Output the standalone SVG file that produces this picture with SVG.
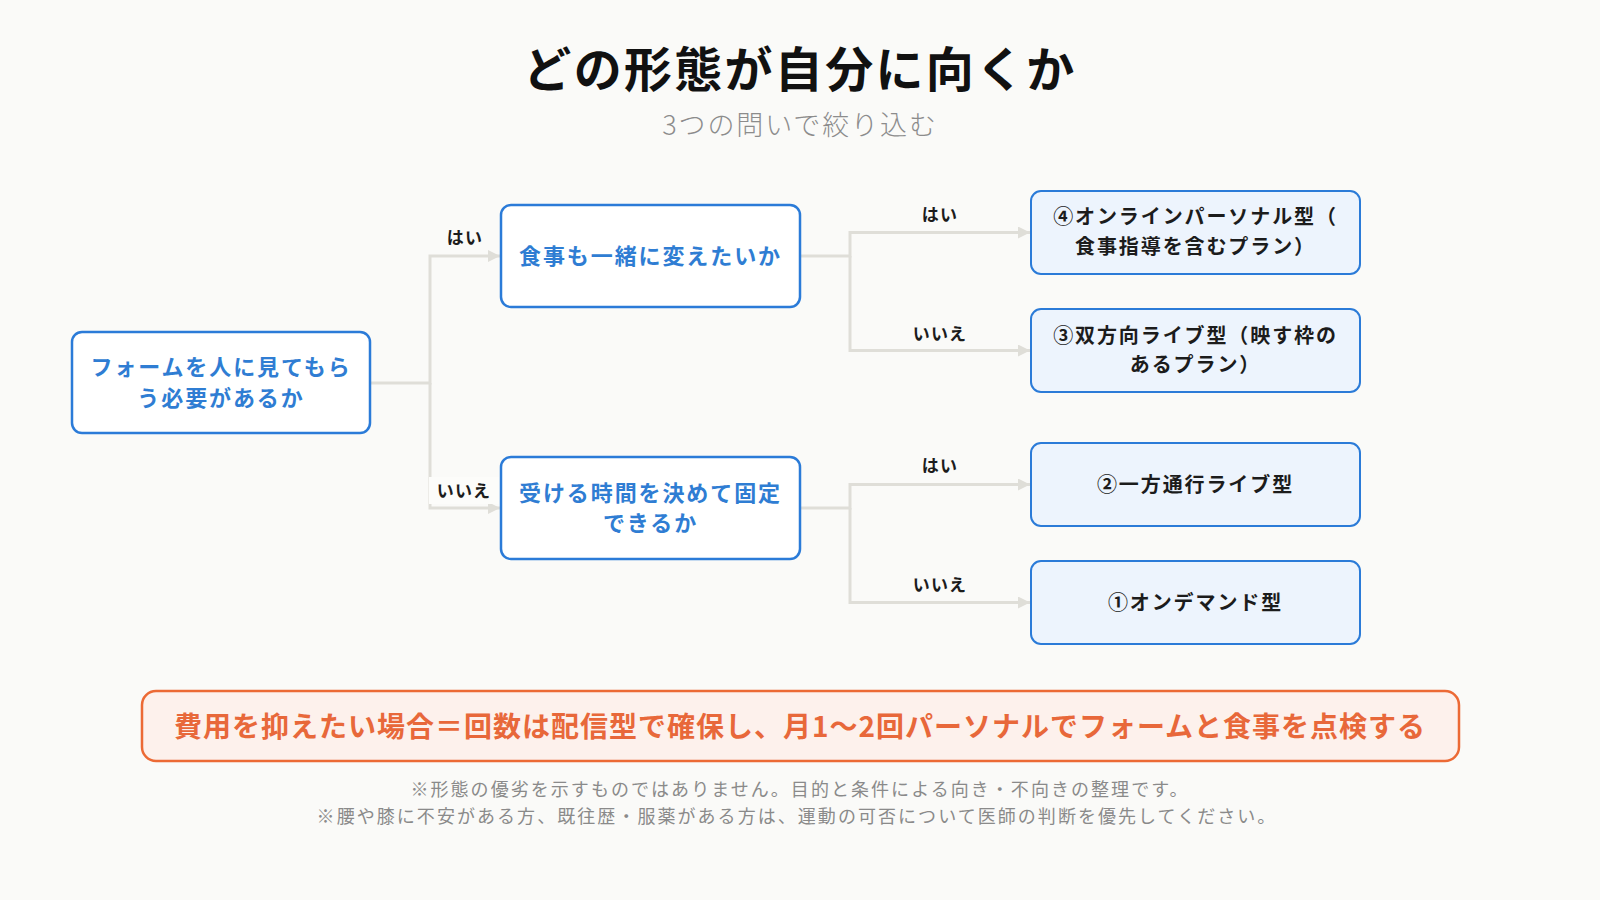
<svg xmlns="http://www.w3.org/2000/svg" width="1600" height="900" viewBox="0 0 1600 900">
<defs>
<style>
text{font-family:"Noto Sans CJK JP","Noto Sans CJK SC",sans-serif;dominant-baseline:central;text-anchor:middle}
.q rect{fill:#ffffff;stroke:#2b7bd8;stroke-width:2.5}
.q text{fill:#2f7dd3;font-size:22px;font-weight:700;letter-spacing:1.9px}
.leaf rect{fill:#edf4fd;stroke:#2b7bd8;stroke-width:2}
.leaf text{fill:#1c1c1c;font-size:20px;font-weight:700;letter-spacing:1.9px}
.lbl{fill:#1c1c1c;font-size:17px;font-weight:700;letter-spacing:1.2px}
.conn path{fill:none;stroke:#dfded8;stroke-width:3}
.note{fill:#8a8a8a;font-size:18px;letter-spacing:2.05px}
</style>
<marker id="ah" markerUnits="userSpaceOnUse" markerWidth="12" markerHeight="12" refX="12" refY="6" orient="auto">
<path d="M0,0 L12,6 L0,12 z" fill="#dfded8"/>
</marker>
</defs>
<rect width="1600" height="900" fill="#fafaf8"/>
<g id="title">
<text x="800" y="66" font-size="48" font-weight="700" fill="#111" letter-spacing="2.3">どの形態が自分に向くか</text>
<text x="800" y="123" font-size="27" font-weight="300" fill="#8c8c8c" letter-spacing="1.9">3つの問いで絞り込む</text>
</g>
<g class="conn" id="connectors">
<path d="M370,383 H430 V256 H500" marker-end="url(#ah)"/>
<path d="M430,383 V508 H500" marker-end="url(#ah)"/>
<path d="M800,256 H850 V232.5 H1030" marker-end="url(#ah)"/>
<path d="M850,256 V350.5 H1030" marker-end="url(#ah)"/>
<path d="M800,508 H850 V484.5 H1030" marker-end="url(#ah)"/>
<path d="M850,508 V602.5 H1030" marker-end="url(#ah)"/>
</g>
<g id="edge-labels">
<text class="lbl" x="465" y="236">はい</text>
<rect x="429" y="477" width="70" height="27" fill="#fcfcfa"/>
<text class="lbl" x="464" y="489">いいえ</text>
<text class="lbl" x="940" y="213">はい</text>
<text class="lbl" x="940" y="332">いいえ</text>
<text class="lbl" x="940" y="464">はい</text>
<text class="lbl" x="940" y="583">いいえ</text>
</g>
<g id="q-root" class="q">
<rect x="72" y="332" width="298" height="101" rx="10"/>
<text x="221" y="365">フォームを人に見てもら</text>
<text x="221" y="396">う必要があるか</text>
</g>
<g id="q-meal" class="q">
<rect x="501" y="205" width="299" height="102" rx="10"/>
<text x="650.5" y="254">食事も一緒に変えたいか</text>
</g>
<g id="q-time" class="q">
<rect x="501" y="457" width="299" height="102" rx="10"/>
<text x="650.5" y="491">受ける時間を決めて固定</text>
<text x="650.5" y="521">できるか</text>
</g>
<g id="leaf-4" class="leaf">
<rect x="1031" y="191" width="329" height="83" rx="10"/>
<text x="1195.5" y="215">④オンラインパーソナル型（</text>
<text x="1195.5" y="245">食事指導を含むプラン）</text>
</g>
<g id="leaf-3" class="leaf">
<rect x="1031" y="309" width="329" height="83" rx="10"/>
<text x="1195.5" y="334">③双方向ライブ型（映す枠の</text>
<text x="1195.5" y="363">あるプラン）</text>
</g>
<g id="leaf-2" class="leaf">
<rect x="1031" y="443" width="329" height="83" rx="10"/>
<text x="1195.5" y="483">②一方通行ライブ型</text>
</g>
<g id="leaf-1" class="leaf">
<rect x="1031" y="561" width="329" height="83" rx="10"/>
<text x="1195.5" y="601">①オンデマンド型</text>
</g>
<g id="banner">
<rect x="142" y="691" width="1317" height="70" rx="14" fill="#fdf1ec" stroke="#ec6a35" stroke-width="2.5"/>
<text x="800" y="724.5" font-size="28" font-weight="700" fill="#e8683a" letter-spacing="1">費用を抑えたい場合＝回数は配信型で確保し、月1〜2回パーソナルでフォームと食事を点検する</text>
</g>
<g id="notes">
<text class="note" x="800" y="788">※形態の優劣を示すものではありません。目的と条件による向き・不向きの整理です。</text>
<text class="note" x="797" y="815">※腰や膝に不安がある方、既往歴・服薬がある方は、運動の可否について医師の判断を優先してください。</text>
</g>
</svg>
